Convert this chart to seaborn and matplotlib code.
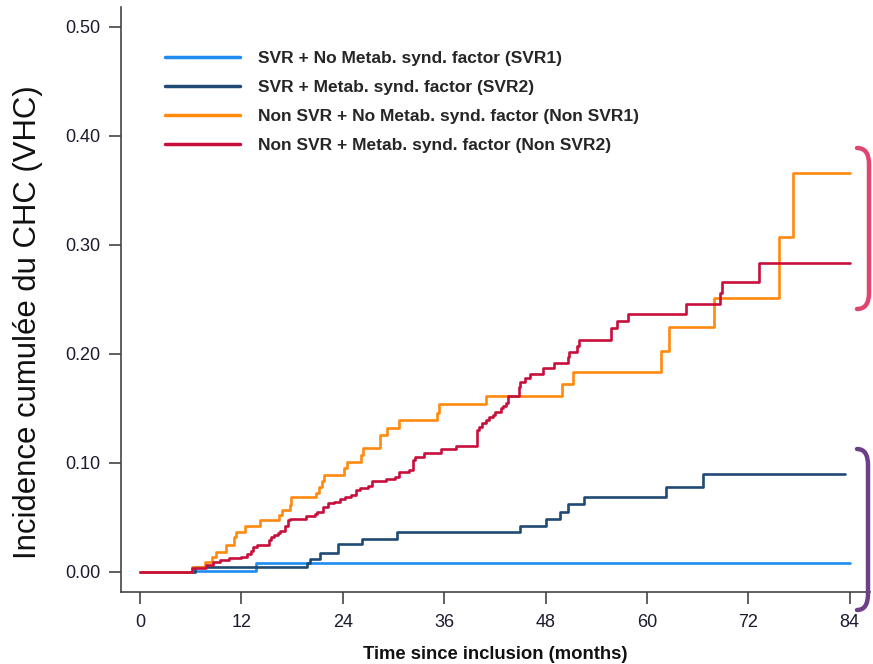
import matplotlib
matplotlib.use("Agg")

import pandas as pd
import seaborn as sns
import matplotlib.pyplot as plt
from matplotlib.path import Path
from matplotlib.patches import PathPatch

# ===============================
# data
# ===============================
groups = [
    "SVR + No Metab. synd. factor (SVR1)",
    "SVR + Metab. synd. factor (SVR2)",
    "Non SVR + No Metab. synd. factor (Non SVR1)",
    "Non SVR + Metab. synd. factor (Non SVR2)",
]
colors = ["#1E8CF0", "#1F4A73", "#FF8A0E", "#C80F3C"]

svr1_t = [0, 6.5, 13.7, 84]
svr1_y = [0, 0.001, 0.008, 0.008]

svr2_t = [0, 6.5, 19.8, 20.1, 21.3, 23.4, 26.3, 30.4, 45.0, 48.1, 49.7, 50.6,
          52.6, 62.2, 66.6, 83.5]
svr2_y = [0, 0.0045, 0.0085, 0.012, 0.017, 0.0257, 0.030, 0.0364, 0.042,
          0.0483, 0.055, 0.0624, 0.0685, 0.0777, 0.0899, 0.0899]

nsvr1_t = [0, 6.1, 7.7, 8.5, 9.0, 10.2, 11.1, 11.4, 12.4, 14.2, 16.4, 16.8,
           17.7, 17.9, 20.8, 21.2, 21.5, 21.8, 24.1, 24.5, 26.1, 26.4, 28.4,
           29.2, 30.6, 35.1, 35.4, 40.9, 50.0, 51.2, 61.7, 62.6, 67.9, 75.6,
           77.3, 84]
nsvr1_y = [0, 0.0049, 0.0095, 0.014, 0.0187, 0.0248, 0.0324, 0.037, 0.042,
           0.0477, 0.0523, 0.057, 0.0615, 0.0685, 0.0728, 0.078, 0.083, 0.089,
           0.095, 0.101, 0.107, 0.1135, 0.1257, 0.1318, 0.139, 0.1455, 0.1538,
           0.161, 0.1725, 0.1838, 0.203, 0.2245, 0.251, 0.3076, 0.3657, 0.3657]

nsvr2_t = [0, 6.2, 7.8, 8.6, 9.5, 10.5, 11.9, 12.7, 13.1, 13.4, 13.9, 15.3,
           15.5, 15.9, 16.3, 16.6, 17.2, 17.5, 17.7, 19.6, 20.7, 20.9, 21.7,
           22.2, 23.0, 23.7, 24.3, 25.0, 25.6, 26.0, 27.0, 27.4, 29.1, 30.2,
           30.6, 31.8, 32.3, 32.5, 33.6, 35.6, 37.4, 39.9, 40.1, 40.5, 40.9,
           41.3, 41.8, 42.0, 42.7, 43.0, 43.3, 43.6, 44.8, 45.0, 45.6, 46.1,
           47.7, 49.0, 50.6, 50.8, 51.7, 52.0, 55.7, 56.4, 57.7, 64.6, 68.7,
           68.9, 73.3, 84]
nsvr2_y = [0, 0.0034, 0.0064, 0.0095, 0.011, 0.0125, 0.014, 0.0162, 0.0193,
           0.0232, 0.0248, 0.0294, 0.0324, 0.034, 0.0355, 0.0376, 0.042,
           0.0477, 0.0486, 0.0517, 0.0535, 0.0553, 0.06, 0.063, 0.0645, 0.067,
           0.069, 0.0705, 0.075, 0.0768, 0.079, 0.083, 0.0855, 0.0875, 0.092,
           0.0936, 0.1028, 0.1058, 0.1089, 0.1128, 0.1156, 0.130, 0.1333,
           0.1364, 0.1394, 0.142, 0.144, 0.147, 0.1505, 0.152, 0.1548, 0.161,
           0.17, 0.1746, 0.1777, 0.1815, 0.187, 0.192, 0.1976, 0.202, 0.2073,
           0.2125, 0.2235, 0.23, 0.2367, 0.2459, 0.2557, 0.2663, 0.2832, 0.2832]

x_ticks = [0, 12, 24, 36, 48, 60, 72, 84]
y_ticks = [0.0, 0.1, 0.2, 0.3, 0.4, 0.5]

frames = []
for g, t, y in zip(groups, [svr1_t, svr2_t, nsvr1_t, nsvr2_t],
                   [svr1_y, svr2_y, nsvr1_y, nsvr2_y]):
    frames.append(pd.DataFrame({"time": t, "cuminc": y, "group": g}))
df = pd.concat(frames, ignore_index=True)

# ===============================
# style
# ===============================
sns.set_style("ticks")
plt.rcParams['font.family'] = ['Liberation Sans', 'DejaVu Sans']

W, H = 873, 664
fig = plt.figure(figsize=(W / 100, H / 100), dpi=100)
ax = fig.add_axes([121 / W, (H - 592) / H, (870 - 121) / W, (592 - 7) / H])

sns.lineplot(
    data=df, x="time", y="cuminc", hue="group", hue_order=groups,
    palette=colors, estimator=None, drawstyle="steps-post",
    linewidth=1.9, ax=ax, legend=True
)

ax.set_xlim(-2.25, 86.4)
ax.set_ylim(-0.0184, 0.5183)
ax.set_xticks(x_ticks)
ax.set_xticklabels([str(v) for v in x_ticks])
ax.set_yticks(y_ticks)
ax.set_yticklabels([f"{v:.2f}" for v in y_ticks])

for side in ["top", "right"]:
    ax.spines[side].set_visible(False)
for side in ["left", "bottom"]:
    ax.spines[side].set_color("#444444")
    ax.spines[side].set_linewidth(1.2)

ax.tick_params(axis="both", direction="out", length=8.5, width=1.2,
               color="#444444", labelcolor="#1b1b2f", labelsize=13, pad=6)
ax.tick_params(axis="x", pad=7)

ax.set_xlabel("Time since inclusion (months)", fontsize=13.3, fontweight="bold",
              color="#111111")
ax.xaxis.set_label_coords(0.5, -0.092)
ax.set_ylabel("Incidence cumulée du CHC (VHC)", fontsize=22.4, color="#111111")
ax.yaxis.set_label_coords(-0.104, 0.4615)

# legend
handles, labels = ax.get_legend_handles_labels()
for h in handles:
    h.set_linewidth(2.5)
ax.legend(handles, labels, loc="upper left", bbox_to_anchor=(165 / W, 1 - 51 / H),
          bbox_transform=fig.transFigure, frameon=False, borderaxespad=0,
          borderpad=0, handlelength=4.3, handletextpad=1.05, labelspacing=0.79,
          prop={"size": 12.5, "weight": "bold"})


# ===============================
# brackets on the right
# ===============================
def bracket(x0, xr, ytop, ybot, r, color):
    pts = [(x0, ytop), (xr, ytop), (xr, ytop + r), (xr, ybot - r),
           (xr, ybot), (x0, ybot)]
    codes = [Path.MOVETO, Path.CURVE3, Path.CURVE3, Path.LINETO,
             Path.CURVE3, Path.CURVE3]
    verts = [(x / W, 1 - y / H) for x, y in pts]
    patch = PathPatch(Path(verts, codes), transform=fig.transFigure,
                      fill=False, edgecolor=color, linewidth=3.2,
                      capstyle="round", clip_on=False)
    fig.patches.append(patch)


bracket(857, 869, 148, 309, 16, "#E0456F")
bracket(857, 868, 449, 610, 16, "#6E3F86")

plt.savefig("out.png", dpi=100)
plt.close()
